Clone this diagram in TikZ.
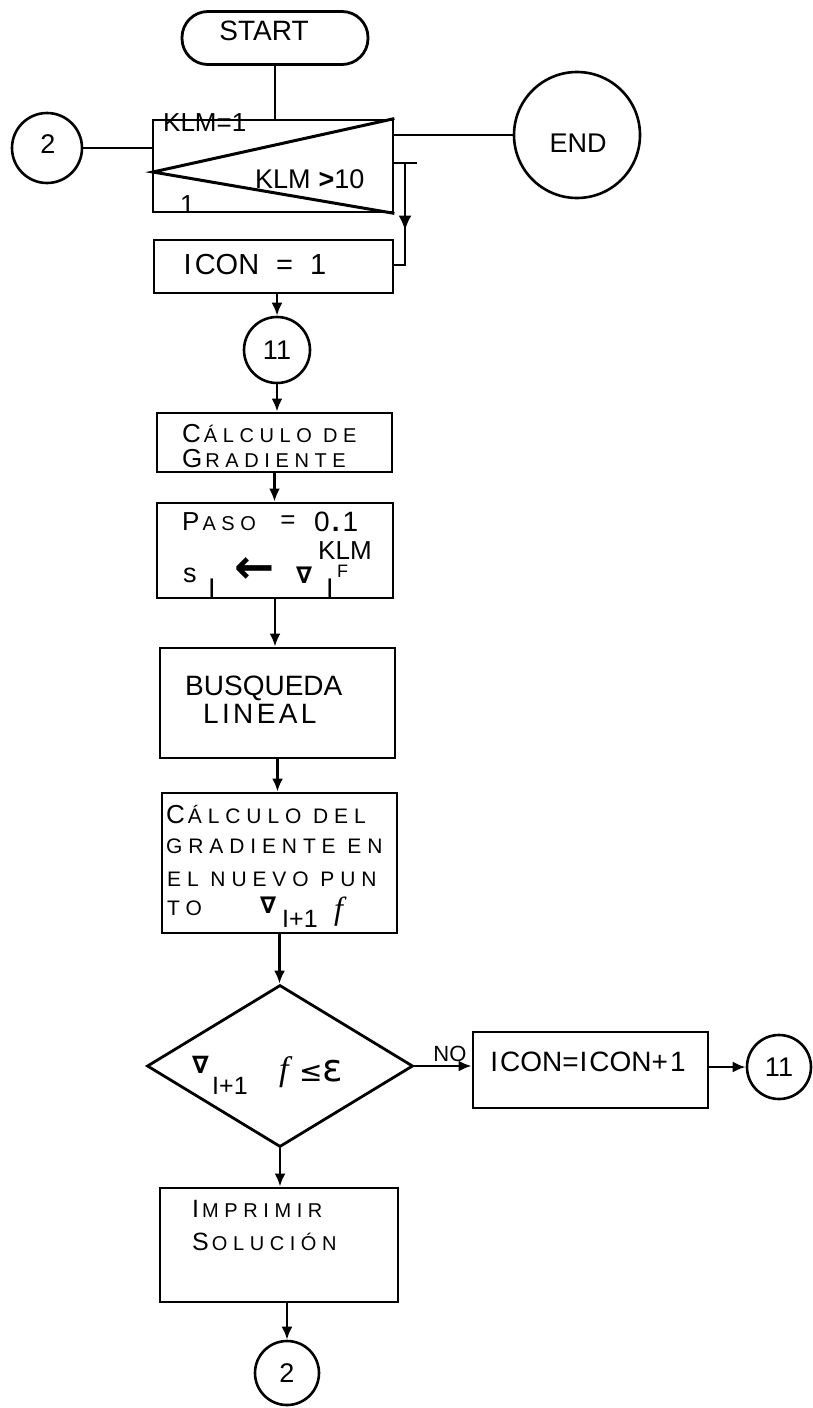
\documentclass[tikz,border=0pt]{standalone}
\usepackage{fontspec}
\setmainfont{Liberation Sans}
\newfontfamily\spf[LetterSpace=28]{Liberation Sans}
\newfontfamily\spl[LetterSpace=12]{Liberation Sans}
\newfontfamily\symf{DejaVu Sans}
\newfontfamily\symb{DejaVu Sans Bold}
\newfontfamily\serif{Liberation Serif}
\usetikzlibrary{arrows.meta,shapes.geometric,decorations.markings}
\newcommand{\fs}[1]{\fontsize{#1}{#1}\selectfont}
\newcommand{\capsc}[4]{{\fs{#3}#1}\hspace{3pt}{\spf\fs{#4}#2}}
\begin{document}
\begin{tikzpicture}[x=1pt,y=-1pt,
  box/.style={draw, rectangle, inner sep=0pt, line width=2.8pt},
  conn/.style={draw, circle, inner sep=0pt, line width=2.6pt, font=\fs{27}},
  ln/.style={line width=2.6pt},
  arr/.style={line width=2.6pt, -{Latex[length=13pt,width=11pt]}},
  t/.style={inner sep=0pt, anchor=base west},
  tc/.style={inner sep=0pt, anchor=center}]
\useasboundingbox (0,0) rectangle (813,1408);

% ---------- START ----------
\node[box, rounded corners=26pt, minimum width=186pt, minimum height=53pt] (start) at (275,38) {};
\node[tc, font=\fs{28}] (startT) at (264,31) {START};

% ---------- loop box ----------
\node[box, minimum width=240pt, minimum height=92pt] (loop) at (273,166) {};
\coordinate (apex) at (153,172);
\draw[line width=3pt] (loop.north east) -- (apex) -- (loop.south east);
\node[t, font=\fs{26}] (klmA) at (163,131) {KLM=1};
\node[t, font=\fs{27}] (klmB) at (255,188) {KLM\hspace{8pt}\textbf{>}10};
\node[t, font=\fs{26}] (klmC) at (180,213) {1};

\node[conn, minimum size=70pt] (ctwo) at (47,148) {};
\node[tc, font=\fs{27}] (ctwoT) at (48,144) {2};
\node[conn, minimum size=126pt] (end) at (577,135) {};
\node[tc, font=\fs{27}] (endT) at (578,143) {END};

\draw[ln] (start.south) -- (start.south |- loop.north);
\draw[ln] (ctwo.east) -- (ctwo.east -| loop.west);
\draw[ln] (loop.east |- end.west) -- (end.west);

% ---------- ICON = 1 ----------
\node[box, minimum width=239pt, minimum height=53pt] (icon) at (273.5,266.5) {};
\node[tc, font=\fs{29}] (iconT) at (255,265) {I\hspace{3pt}CON\hspace{17pt}=\hspace{17pt}1};

\coordinate (bt) at (405,163);
\coordinate (bb) at (405,265);
\draw[ln] (loop.east |- bt) -- ++(23,0);
\draw[ln, decoration={markings, mark=at position 0.6 with {\arrow{Latex[length=15pt,width=13pt]}}}, postaction={decorate}]
  (bt) -- (bb) -- (icon.east |- bb);

% ---------- connector 11 ----------
\node[conn, minimum size=66pt] (celeven) at (277,350) {11};
\draw[arr] (icon.south -| celeven) -- (celeven.north);

% ---------- Calculo de gradiente ----------
\node[box, minimum width=235pt, minimum height=59pt] (grad) at (274.5,442.5) {};
\node[t] (gradA) at (182,442) {\capsc{C}{ÁLCULO DE}{26}{20}};
\node[t] (gradB) at (182,467) {\capsc{G}{RADIENTE}{26}{20}};
\draw[arr] (celeven.south) -- (celeven.south |- grad.north);

% ---------- Paso ----------
\node[box, minimum width=236pt, minimum height=95pt] (paso) at (275,550.5) {};
\node[t] (pasoA) at (182,530) {\capsc{P}{ASO}{26}{20}};
\node[tc, font=\fs{26}] (pasoEq) at (288,522) {=};
\node[t, font=\fs{28}] (pasoNum) at (314,531) {0\hspace{2pt}\textbf{.}\hspace{3pt}1};
\node[t, font=\fs{26}] (pasoKLM) at (318,559) {KLM};
\node[t, font=\fs{27}] (pasoS) at (183,582) {s};
\node[t, font=\fs{27}] (pasoSI) at (208,597) {I};
\node[tc, font=\symb\fs{48}] (pasoArr) at (255,571) {←};
\node[t, font=\symb\fs{23}] (pasoNab) at (296,583) {∇};
\node[t, font=\fs{27}] (pasoNI) at (326,597) {I};
\node[t, font=\fs{18}] (pasoF) at (337,577) {F};
\draw[arr] (grad.south) -- (grad.south |- paso.north);

% ---------- Busqueda lineal ----------
\node[box, minimum width=235pt, minimum height=110pt] (busq) at (277.5,703) {};
\node[t, font=\fs{28}] (busqA) at (185,695) {BUSQUEDA};
\node[t, font=\spl\fs{28}] (busqB) at (203,723) {LINEAL};
\draw[arr] (paso.south) -- (paso.south |- busq.north);

% ---------- Calculo del gradiente ----------
\node[box, minimum width=235pt, minimum height=140pt] (calc) at (279.5,863) {};
\node[t] (calcA) at (166,823) {\capsc{C}{ÁLCULO DEL}{26}{21}};
\node[t, font=\spf\fs{21}] (calcB) at (166,853) {GRADIENTE EN};
\node[t, font=\spf\fs{21}] (calcC) at (167,886) {EL NUEVO PUN};
\node[t, font=\spf\fs{21}] (calcD) at (167,915) {TO};
\node[t, font=\symb\fs{23}] (calcNab) at (260,913) {∇};
\node[t, font=\fs{25}] (calcI) at (282,927) {I+1};
\node[t, font=\serif\itshape\fs{32}] (calcF) at (334,919) {f};
\draw[arr] (busq.south) -- (busq.south |- calc.north);

% ---------- decision ----------
\node[draw, diamond, line width=2.8pt, inner sep=0pt, minimum width=266pt, minimum height=162pt] (dec) at (280,1066) {};
\node[t, font=\symb\fs{24}] (decNab) at (192,1073) {∇};
\node[t, font=\fs{25}] (decI) at (212,1094) {I+1};
\node[t, font=\serif\itshape\fs{34}] (decF) at (279,1080) {f};
\node[t, font=\symf\fs{28}] (decLe) at (299,1081) {≤};
\node[t, font=\symf\fs{38}] (decEps) at (322,1081) {ε};
\draw[arr] (calc.south) -- (calc.south |- dec.north);

% ---------- ICON = ICON + 1 ----------
\node[box, minimum width=235pt, minimum height=76pt] (inc) at (590.5,1070) {};
\node[tc, font=\fs{28}] (incT) at (588,1062) {I\hspace{2pt}CON=\hspace{1pt}I\hspace{2pt}CON+\hspace{2pt}1};
\draw[arr] (dec.east) -- (dec.east -| inc.west) node[pos=0.62, above=3pt, font=\fs{22}, inner sep=0pt] (noT) {NO};
\node[conn, minimum size=64pt] (celevenR) at (779,1067) {11};
\draw[arr] (inc.east |- celevenR) -- (celevenR.west);

% ---------- Imprimir solucion ----------
\node[box, minimum width=238pt, minimum height=114pt] (imp) at (279,1245) {};
\node[t] (impA) at (192,1217) {\capsc{I}{MPRIMIR}{25}{20}};
\node[t] (impB) at (192,1250) {\capsc{S}{OLUCIÓN}{25}{20}};
\draw[arr] (dec.south) -- (dec.south |- imp.north);

\node[conn, minimum size=64pt] (ctwoB) at (287,1373) {2};
\draw[arr] (imp.south -| ctwoB) -- (ctwoB.north);
\end{tikzpicture}
\end{document}
